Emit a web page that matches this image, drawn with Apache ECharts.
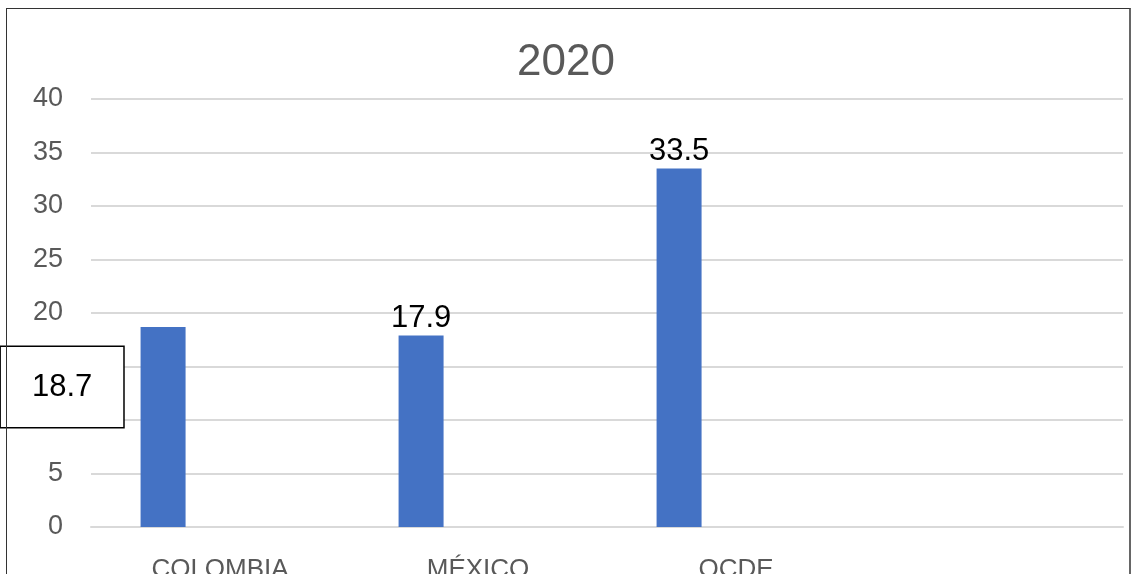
<!DOCTYPE html>
<html>
<head>
<meta charset="utf-8">
<script src="https://cdn.jsdelivr.net/npm/echarts@6/dist/echarts.min.js"></script>
<style>
html,body{margin:0;padding:0;background:#fff;}
#wrap{position:relative;width:1132px;height:574px;overflow:hidden;}
#chart{position:absolute;left:0;top:0;width:1132px;height:574px;}
#frame{position:absolute;left:6px;top:8px;width:1122px;height:620px;border:1.5px solid #333;border-right:2px solid #666;pointer-events:none;}
</style>
</head>
<body>
<div id="wrap"><div id="chart"></div><div id="frame"></div></div>
<script>
var titleText = '2020';
var categories = ['COLOMBIA', 'MÉXICO', 'OCDE', ''];
var values2020 = [18.7, 17.9, 33.5, null];
var emptySeries = [null, null, null, null];
var yTicks = {min: 0, max: 40, interval: 5};

var FONT = 'Liberation Sans, Arial, sans-serif';
var chart = echarts.init(document.getElementById('chart'), null, {renderer: 'canvas'});

var barData = values2020.map(function (v, i) {
  if (i === 0) {
    return {
      value: v,
      label: {
        position: 'inside',
        offset: [-101, -40],
        backgroundColor: '#fff',
        borderColor: '#000',
        borderWidth: 1.5,
        padding: [22, 31],
        lineHeight: 36
      }
    };
  }
  return v;
});

chart.setOption({
  animation: false,
  backgroundColor: '#fff',
  title: {
    text: titleText,
    left: 'center',
    top: 36,
    textStyle: {fontFamily: FONT, fontSize: 44, fontWeight: 'normal', color: '#595959'}
  },
  grid: {left: 91, right: 9, top: 99, bottom: 47, containLabel: false, outerBoundsMode: 'none'},
  xAxis: {
    type: 'category',
    data: categories,
    axisLine: {show: true, lineStyle: {color: '#d9d9d9', width: 2}},
    axisTick: {show: false},
    axisLabel: {fontFamily: FONT, fontSize: 26, color: '#595959', margin: 30}
  },
  yAxis: {
    type: 'value',
    min: yTicks.min,
    max: yTicks.max,
    interval: yTicks.interval,
    axisLine: {show: false},
    axisTick: {show: false},
    axisLabel: {fontFamily: FONT, fontSize: 27, color: '#595959', margin: 28},
    splitLine: {lineStyle: {color: '#d9d9d9', width: 2}}
  },
  series: [
    {
      type: 'bar',
      data: barData,
      barWidth: 45,
      barGap: '153%',
      itemStyle: {color: '#4472c4'},
      label: {
        show: true,
        position: 'top',
        distance: 2,
        fontFamily: FONT,
        fontSize: 31,
        color: '#000'
      },
      z: 3
    },
    {
      type: 'bar',
      data: emptySeries,
      barWidth: 45,
      itemStyle: {color: '#ed7d31'}
    }
  ]
});
</script>
</body>
</html>
